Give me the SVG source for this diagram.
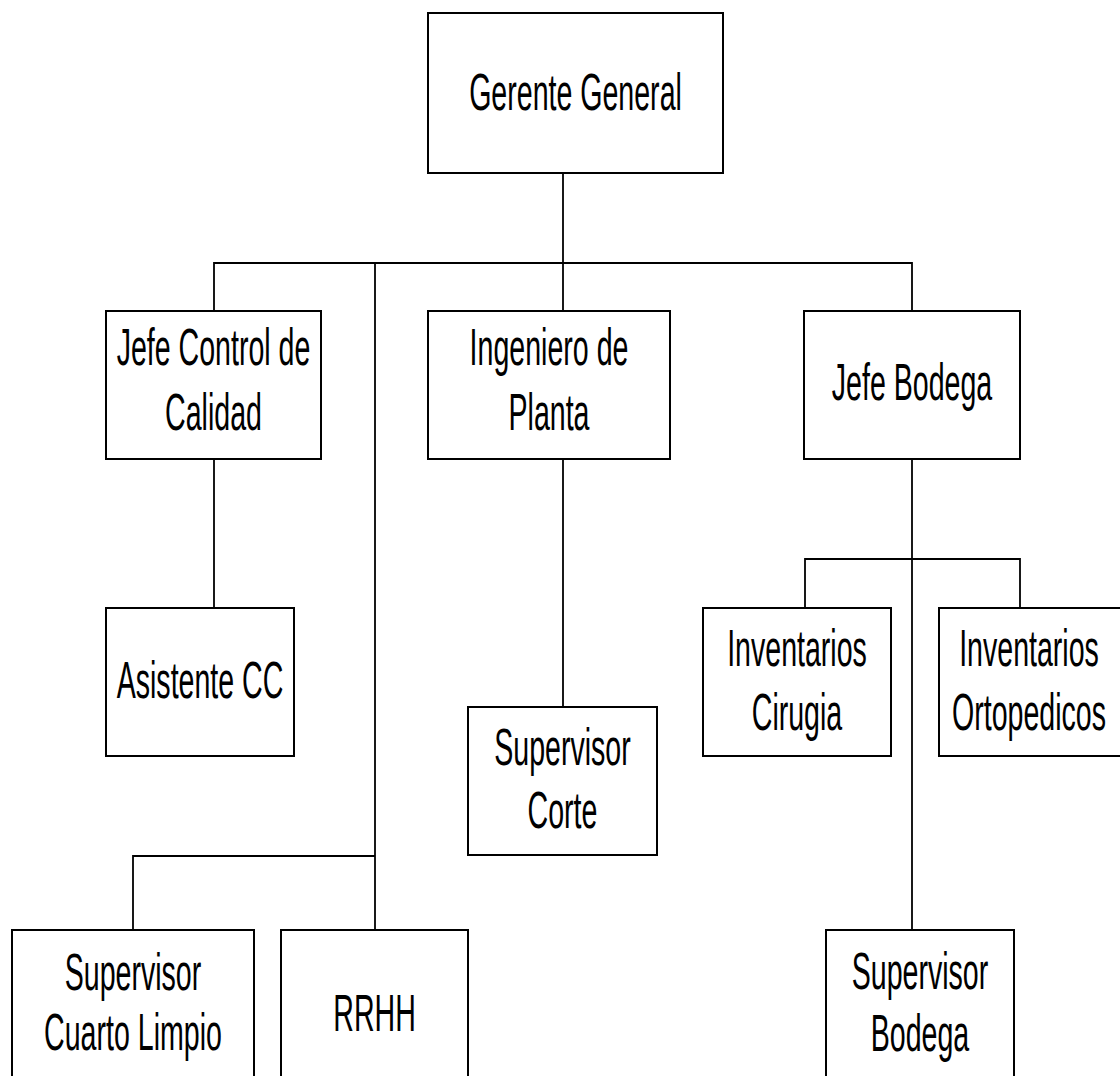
<svg xmlns="http://www.w3.org/2000/svg" width="1120" height="1076" viewBox="0 0 1120 1076">
  <style>
    .box { fill: #ffffff; stroke: #000000; stroke-width: 2; }
    .link { fill: none; stroke: #000000; stroke-width: 1.8; }
    .label { font-family: "Liberation Sans", Arial, sans-serif; font-size: 51px; fill: #000000; text-anchor: middle; }
  </style>
  <rect x="0" y="0" width="1120" height="1076" fill="#ffffff"/>

  <!-- reporting lines -->
  <g id="connectors">
    <path class="link" d="M563,173 V263"/>
    <path class="link" d="M214,311 V263 H912 V311"/>
    <path class="link" d="M563,263 V311"/>
    <path class="link" d="M375,263 V930"/>
    <path class="link" d="M214,459 V608"/>
    <path class="link" d="M563,459 V707"/>
    <path class="link" d="M912,459 V930"/>
    <path class="link" d="M805,608 V559 H1020 V608"/>
    <path class="link" d="M133,930 V856 H375"/>
  </g>

  <g id="gerente-general">
    <rect class="box" x="428" y="13" width="295" height="160"/>
    <g transform="translate(575.5,0) scale(0.56,1)"><text class="label" x="0" y="110">Gerente General</text></g>
  </g>

  <g id="jefe-control-calidad">
    <rect class="box" x="106" y="311" width="215" height="148"/>
    <g transform="translate(213.5,0) scale(0.56,1)">
      <text class="label" x="0" y="365">Jefe Control de</text>
      <text class="label" x="0" y="430">Calidad</text>
    </g>
  </g>

  <g id="ingeniero-planta">
    <rect class="box" x="428" y="311" width="242" height="148"/>
    <g transform="translate(549,0) scale(0.56,1)">
      <text class="label" x="0" y="365">Ingeniero de</text>
      <text class="label" x="0" y="430">Planta</text>
    </g>
  </g>

  <g id="jefe-bodega">
    <rect class="box" x="804" y="311" width="216" height="148"/>
    <g transform="translate(912,0) scale(0.56,1)"><text class="label" x="0" y="400">Jefe Bodega</text></g>
  </g>

  <g id="asistente-cc">
    <rect class="box" x="106" y="608" width="188" height="148"/>
    <g transform="translate(200,0) scale(0.56,1)"><text class="label" x="0" y="698">Asistente CC</text></g>
  </g>

  <g id="inventarios-cirugia">
    <rect class="box" x="703" y="608" width="188" height="148"/>
    <g transform="translate(797,0) scale(0.56,1)">
      <text class="label" x="0" y="666">Inventarios</text>
      <text class="label" x="0" y="730">Cirugia</text>
    </g>
  </g>

  <g id="inventarios-ortopedicos">
    <rect class="box" x="939" y="608" width="182" height="148"/>
    <g transform="translate(1029,0) scale(0.56,1)">
      <text class="label" x="0" y="666">Inventarios</text>
      <text class="label" x="0" y="730">Ortopedicos</text>
    </g>
  </g>

  <g id="supervisor-corte">
    <rect class="box" x="468" y="707" width="189" height="148"/>
    <g transform="translate(562.5,0) scale(0.56,1)">
      <text class="label" x="0" y="765">Supervisor</text>
      <text class="label" x="0" y="828">Corte</text>
    </g>
  </g>

  <g id="supervisor-cuarto-limpio">
    <rect class="box" x="12" y="930" width="242" height="160"/>
    <g transform="translate(133,0) scale(0.56,1)">
      <text class="label" x="0" y="990">Supervisor</text>
      <text class="label" x="0" y="1050">Cuarto Limpio</text>
    </g>
  </g>

  <g id="rrhh">
    <rect class="box" x="281" y="930" width="187" height="160"/>
    <g transform="translate(374.5,0) scale(0.56,1)"><text class="label" x="0" y="1031">RRHH</text></g>
  </g>

  <g id="supervisor-bodega">
    <rect class="box" x="826" y="930" width="188" height="160"/>
    <g transform="translate(920,0) scale(0.56,1)">
      <text class="label" x="0" y="989">Supervisor</text>
      <text class="label" x="0" y="1051">Bodega</text>
    </g>
  </g>
</svg>
